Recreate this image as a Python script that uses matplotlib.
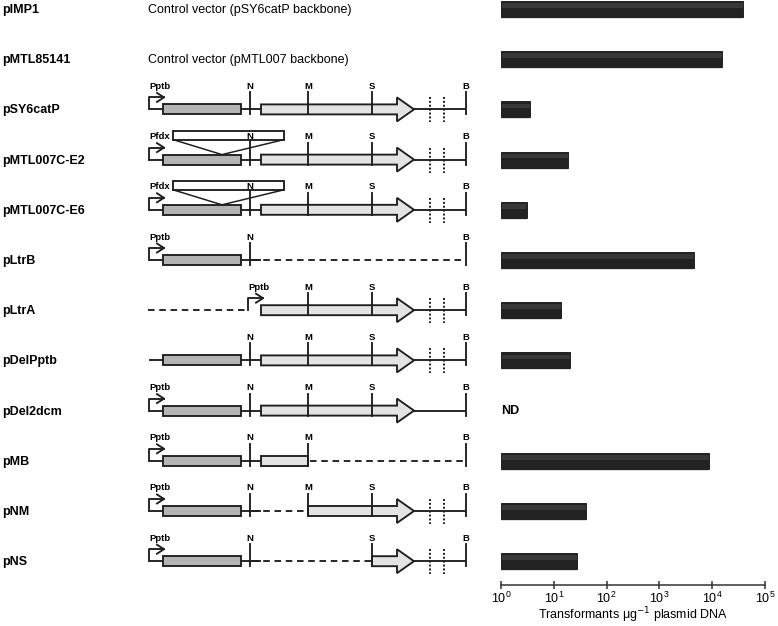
import numpy as np
import matplotlib.pyplot as plt
from matplotlib.patches import Rectangle, Polygon

plt.rcParams['font.family'] = ['Liberation Sans', 'DejaVu Sans']

# data
constructs = ['pIMP1', 'pMTL85141', 'pSY6catP', 'pMTL007C-E2', 'pMTL007C-E6',
              'pLtrB', 'pLtrA', 'pDelPptb', 'pDel2dcm', 'pMB', 'pNM', 'pNS']
transformants = [3.8e4, 1.55e4, 3.6, 18.8, 3.1, 4.6e3, 13.7, 20, None, 8.8e3, 41, 27.5]
control_text = {'pIMP1': 'Control vector (pSY6catP backbone)',
                'pMTL85141': 'Control vector (pMTL007 backbone)'}
maps = {
    'pSY6catP': ['pptb', 'lead', 'catP', 'N', 'ltrA', 'M', 'S', 'tail', 'dots', 'B'],
    'pMTL007C-E2': ['pfdx', 'lead', 'catP', 'N', 'ltrA', 'M', 'S', 'tail', 'dots', 'B'],
    'pMTL007C-E6': ['pfdx', 'lead', 'catP', 'N', 'ltrA', 'M', 'S', 'tail', 'dots', 'B'],
    'pLtrB': ['pptb', 'lead', 'catP', 'N', 'dashNB', 'B'],
    'pLtrA': ['dashL', 'pptb_mid', 'ltrA', 'M', 'S', 'tail', 'dots', 'B'],
    'pDelPptb': ['lead', 'catP', 'N', 'ltrA', 'M', 'S', 'tail', 'dots', 'B'],
    'pDel2dcm': ['pptb', 'lead', 'catP', 'N', 'ltrA', 'M', 'S', 'tail', 'B'],
    'pMB': ['pptb', 'lead', 'catP', 'N', 'ltrA_M', 'M', 'dashMB', 'B'],
    'pNM': ['pptb', 'lead', 'catP', 'N', 'dashNM', 'ltrA_fromM', 'M', 'S', 'tail', 'dots', 'B'],
    'pNS': ['pptb', 'lead', 'catP', 'N', 'dashNS', 'ltrA_fromS', 'S', 'tail', 'dots', 'B'],
}

# map layout (pixel units of the figure)
ROW0, ROWSTEP = 9, 50.2
X0, CAT0, CAT1, XN, LTR0, XM, XS, BODY1, TIP, D1, D2, XB = \
    149, 163, 241, 250, 261, 308, 372, 397, 414, 430, 444, 466
LW = 1.35
DARK = '#1e1e1e'

fig = plt.figure(figsize=(7.78, 6.26), dpi=100)
ax = fig.add_axes([0, 0, 1, 1])
ax.set_xlim(0, 778)
ax.set_ylim(626, 0)
ax.axis('off')

lab_kw = dict(fontsize=6.8, fontweight='bold', ha='center', va='center', color='black')


def line(x0, x1, y, ls='-'):
    ax.plot([x0, x1], [y, y], color=DARK, lw=LW, ls=ls, dashes=(3.5, 2.5) if ls == '--' else (None, None),
            solid_capstyle='butt', zorder=1)


def marker(x, y, name, top=17):
    ax.plot([x, x], [y - top, y + 5], color=DARK, lw=LW, zorder=4)
    ax.text(x, y - 23, name, **lab_kw)


def promoter(x, y, name):
    ax.plot([x, x, x + 15], [y, y - 12, y - 12], color=DARK, lw=LW, zorder=4)
    ax.plot([x + 8, x + 15, x + 8], [y - 16.5, y - 12, y - 7.5], color=DARK, lw=LW, zorder=4)
    ax.text(x, y - 23, name, **dict(lab_kw, ha='left'))


def ltr_arrow(x0, y):
    pts = [(x0, y - 5), (BODY1, y - 5), (BODY1, y - 12), (TIP, y), (BODY1, y + 12),
           (BODY1, y + 5), (x0, y + 5)]
    ax.add_patch(Polygon(pts, closed=True, fc='#e3e3e3', ec=DARK, lw=LW, zorder=2))


for i, name in enumerate(constructs):
    y = ROW0 + ROWSTEP * i
    ax.text(2, y + 1, name, fontsize=9, fontweight='bold', ha='left', va='center')
    if name in control_text:
        ax.text(148, y + 1, control_text[name], fontsize=9, ha='left', va='center')
        continue
    for el in maps[name]:
        if el == 'pptb':
            promoter(X0, y, 'Pptb')
        elif el == 'pptb_mid':
            promoter(248, y, 'Pptb')
        elif el == 'pfdx':
            promoter(X0, y, 'Pfdx')
            ax.add_patch(Rectangle((173, y - 29), 111, 9, fc='white', ec=DARK, lw=LW, zorder=3))
            ax.plot([173, 222, 284], [y - 20, y - 5, y - 20], color=DARK, lw=LW * 0.8, zorder=3)
        elif el == 'lead':
            line(X0, CAT0, y)
        elif el == 'catP':
            line(CAT1, LTR0, y)
            ax.add_patch(Rectangle((CAT0, y - 5), CAT1 - CAT0, 10, fc='#b4b4b4', ec=DARK, lw=LW, zorder=2))
        elif el == 'N':
            marker(XN, y, 'N', top=20 if 'pfdx' in maps[name] else 17)
        elif el in ('M', 'S', 'B'):
            marker({'M': XM, 'S': XS, 'B': XB}[el], y, el)
        elif el == 'ltrA':
            ltr_arrow(LTR0, y)
        elif el == 'ltrA_fromM':
            ltr_arrow(XM, y)
        elif el == 'ltrA_fromS':
            ltr_arrow(XS, y)
        elif el == 'ltrA_M':
            ax.add_patch(Rectangle((LTR0, y - 5), XM - LTR0, 10, fc='#e3e3e3', ec=DARK, lw=LW, zorder=2))
        elif el == 'tail':
            line(TIP, XB, y)
        elif el == 'dots':
            for xd in (D1, D2):
                ax.plot([xd, xd], [y - 12, y + 13], color=DARK, lw=1.4, ls=(0, (1, 1)), zorder=4)
        elif el == 'dashNB':
            line(XN + 2, XB, y, '--')
        elif el == 'dashL':
            line(X0 - 1, 248, y, '--')
        elif el == 'dashMB':
            line(XM + 2, XB, y, '--')
        elif el == 'dashNM':
            line(XN + 2, XM, y, '--')
        elif el == 'dashNS':
            line(XN + 2, XS, y, '--')

# bar chart of transformation efficiency
AX_BOTTOM = 585
bx = fig.add_axes([501 / 778, 1 - AX_BOTTOM / 626, 264 / 778, AX_BOTTOM / 626])
bx.patch.set_alpha(0)
bx.set_xscale('log')
bx.set_xlim(1, 1e5)
n = len(constructs)
bx.set_ylim((AX_BOTTOM - ROW0) / ROWSTEP, -ROW0 / ROWSTEP)
rows = np.arange(n)
h = 16 / ROWSTEP
for r, v in zip(rows, transformants):
    if v is None:
        bx.text(1.02, r, 'ND', fontsize=9, fontweight='bold', ha='left', va='center')
        continue
    bx.barh(r + 0.04, v - 1, left=1, height=h, color='#dddddd', zorder=1)
    bx.barh(r, v - 1, left=1, height=h, color='#222222', edgecolor='#111111', lw=0.6, zorder=2)
    bx.barh(r - h * 0.22, v - 1.15, left=1.05, height=h * 0.28, color='#383838', lw=0, zorder=3)

for s in ('top', 'right', 'left'):
    bx.spines[s].set_visible(False)
bx.spines['bottom'].set_linewidth(1.1)
bx.spines['bottom'].set_color('#333333')
bx.set_yticks([])
bx.xaxis.set_minor_locator(plt.NullLocator())
bx.tick_params(axis='x', direction='inout', length=6, width=1.1, color='#333333',
               labelsize=9, pad=1)
bx.set_xlabel('Transformants μg$^{-1}$ plasmid DNA', fontsize=9, labelpad=0)

fig.savefig('out.png', dpi=100)
